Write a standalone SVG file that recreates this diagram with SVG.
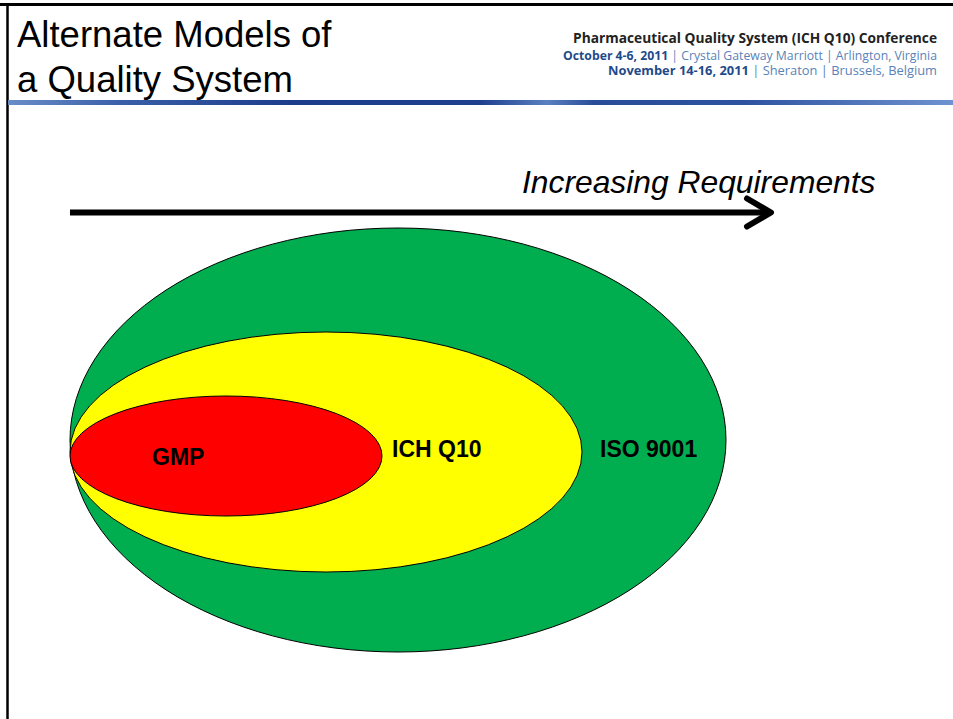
<svg xmlns="http://www.w3.org/2000/svg" width="953" height="719" viewBox="0 0 953 719">
<style>
.title{font-family:"Liberation Sans",Arial,sans-serif;font-size:36.5px;fill:#000}
.hdr{font-family:"Open Sans","Liberation Sans",sans-serif;font-size:12px}
.hb{font-weight:bold;fill:#222;font-size:13.5px}
.db{font-weight:bold;fill:#1f4a8a}
.lb{fill:#5a82b8}
.lbl{font-family:"Liberation Sans",Arial,sans-serif;font-size:23px;font-weight:bold;fill:#000}
.ell{stroke:#000;stroke-width:1}
</style>
<defs>
<linearGradient id="bar" x1="0" y1="0" x2="1" y2="0">
<stop offset="0" stop-color="#6a8cc8"/>
<stop offset="0.12" stop-color="#3a5ea8"/>
<stop offset="0.3" stop-color="#1c3c8c"/>
<stop offset="0.5" stop-color="#1e3f8e"/>
<stop offset="0.57" stop-color="#5a80c0"/>
<stop offset="0.62" stop-color="#2a4c98"/>
<stop offset="0.78" stop-color="#2e52a0"/>
<stop offset="1" stop-color="#6f92d0"/>
</linearGradient>
<marker id="head" markerUnits="userSpaceOnUse" markerWidth="40" markerHeight="40" refX="30" refY="20" orient="auto" viewBox="0 0 40 40">
<polyline points="6,6 30,20 6,34" fill="none" stroke="#000" stroke-width="6" stroke-linecap="round" stroke-linejoin="round"/>
</marker>
</defs>
<rect width="953" height="719" fill="#fff"/>
<line x1="0" y1="4.5" x2="953" y2="4.5" stroke="#000" stroke-width="3"/>
<line x1="7.5" y1="3" x2="7.5" y2="719" stroke="#000" stroke-width="2.5"/>
<rect x="8" y="100" width="945" height="5" fill="url(#bar)"/>
<text class="title" x="17" y="47">Alternate Models of</text>
<text class="title" x="17" y="92">a Quality System</text>
<text class="hdr hb" x="937" y="43" text-anchor="end" textLength="364" lengthAdjust="spacingAndGlyphs">Pharmaceutical Quality System (ICH Q10) Conference</text>
<text class="hdr" x="937" y="59.5" text-anchor="end" textLength="374" lengthAdjust="spacingAndGlyphs"><tspan class="db">October 4-6, 2011</tspan><tspan class="lb"> | Crystal Gateway Marriott | Arlington, Virginia</tspan></text>
<text class="hdr" x="937" y="75" text-anchor="end" textLength="329" lengthAdjust="spacingAndGlyphs"><tspan class="db">November 14-16, 2011</tspan><tspan class="lb"> | Sheraton | Brussels, Belgium</tspan></text>
<text x="522" y="193" font-family="Liberation Sans,Arial,sans-serif" font-style="italic" font-size="31.8" fill="#000">Increasing Requirements</text>
<g id="connectors">
<line x1="70" y1="212.5" x2="771" y2="212.5" stroke="#000" stroke-width="6" marker-end="url(#head)"/>
</g>
<g id="iso9001">
<ellipse class="ell" cx="398" cy="440" rx="328" ry="212" fill="#00ae50"/>
<text class="lbl" x="600" y="457">ISO 9001</text>
</g>
<g id="ichq10">
<ellipse class="ell" cx="326" cy="452" rx="256" ry="120" fill="#ffff00"/>
<text class="lbl" x="392" y="457">ICH Q10</text>
</g>
<g id="gmp">
<ellipse class="ell" cx="226" cy="456" rx="156" ry="60" fill="#ff0000"/>
<text class="lbl" x="152" y="465">GMP</text>
</g>
</svg>
